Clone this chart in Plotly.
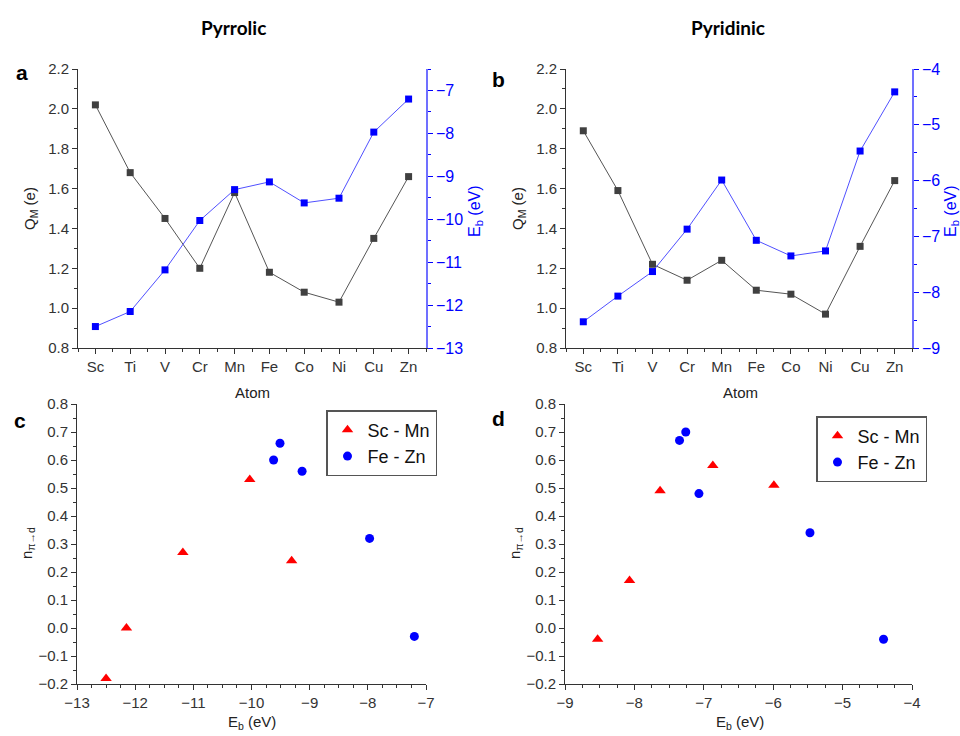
import plotly.graph_objects as go

atoms = ["Sc", "Ti", "V", "Cr", "Mn", "Fe", "Co", "Ni", "Cu", "Zn"]

# Pyrrolic
q_pyrrolic = [2.02, 1.68, 1.45, 1.20, 1.58, 1.18, 1.08, 1.03, 1.35, 1.66]
eb_pyrrolic = [-12.50, -12.15, -11.18, -10.03, -9.31, -9.13, -9.62, -9.51, -7.97, -7.20]
n_pyrrolic = [-0.18, 0.00, 0.27, 0.53, 0.24, 0.56, 0.60, 0.66, 0.32, -0.03]

# Pyridinic
q_pyridinic = [1.89, 1.59, 1.22, 1.14, 1.24, 1.09, 1.07, 0.97, 1.31, 1.64]
eb_pyridinic = [-8.53, -8.07, -7.63, -6.87, -5.99, -7.07, -7.35, -7.26, -5.47, -4.41]
n_pyridinic = [-0.04, 0.17, 0.49, 0.58, 0.51, 0.48, 0.67, 0.70, 0.34, -0.04]

group_names = ["Sc - Mn", "Fe - Zn"]
split = 5

FONT = "Liberation Sans, Arial, sans-serif"
TICKC = "#333333"
BLUE = "#0000ff"

xpos = list(range(len(atoms)))

fig = go.Figure()

W, H = 960, 736
def px(x):
    return x / W
def py(y):
    return 1 - y / H

dom_a = [px(78), px(426)]
dom_b = [px(566), px(912)]
dom_top = [py(348), py(69)]
dom_c = [px(77), px(426)]
dom_d = [px(565), px(912)]
dom_bot = [py(684), py(404)]

# --- top panels ---
for q, eb, xa, ya, ya2 in [
        (q_pyrrolic, eb_pyrrolic, "x", "y", "y2"),
        (q_pyridinic, eb_pyridinic, "x2", "y3", "y4")]:
    fig.add_trace(go.Scatter(x=xpos, y=q, xaxis=xa, yaxis=ya, mode="lines+markers",
                             line=dict(color="#555555", width=1),
                             marker=dict(symbol="square", size=7, color="#404040"),
                             showlegend=False, cliponaxis=False))
    fig.add_trace(go.Scatter(x=xpos, y=eb, xaxis=xa, yaxis=ya2, mode="lines+markers",
                             line=dict(color="#5050ff", width=1),
                             marker=dict(symbol="square", size=7, color=BLUE),
                             showlegend=False, cliponaxis=False))

# --- bottom panels ---
for eb, n, xa, ya, lg in [
        (eb_pyrrolic, n_pyrrolic, "x3", "y5", "legend"),
        (eb_pyridinic, n_pyridinic, "x4", "y6", "legend2")]:
    fig.add_trace(go.Scatter(x=eb[:split], y=n[:split], xaxis=xa, yaxis=ya, mode="markers",
                             name=group_names[0], legend=lg,
                             marker=dict(symbol="triangle-up", size=10, color="#ff0000"),
                             cliponaxis=False))
    fig.add_trace(go.Scatter(x=eb[split:], y=n[split:], xaxis=xa, yaxis=ya, mode="markers",
                             name=group_names[1], legend=lg,
                             marker=dict(symbol="circle", size=9, color=BLUE),
                             cliponaxis=False))

tickfont = dict(family=FONT, size=15, color=TICKC)
bluefont = dict(family=FONT, size=16, color=BLUE)

def xcat(domain, anchor):
    return dict(domain=domain, anchor=anchor, range=[-0.5, 9.5], tickmode="array",
                tickvals=xpos, ticktext=atoms, ticks="outside", ticklen=5,
                tickcolor="#333333", showline=True, linecolor="#333333", linewidth=1,
                showgrid=False, zeroline=False, tickfont=tickfont, automargin=False,
                minor=dict(ticks="outside", ticklen=3, tick0=0.5, dtick=1, tickcolor="#333333"))

def yleft(domain, anchor, rng, dt, mdt):
    return dict(domain=domain, anchor=anchor, range=rng, dtick=dt, tickformat=".1f",
                ticks="outside", ticklen=5, tickcolor="#333333", showline=True,
                linecolor="#333333", linewidth=1, showgrid=False, zeroline=False,
                tickfont=tickfont, automargin=False,
                minor=dict(ticks="outside", ticklen=3, dtick=mdt, tickcolor="#333333"))

def yright(overlay, anchor, rng):
    return dict(overlaying=overlay, anchor=anchor, side="right", range=rng, dtick=1,
                ticks="outside", ticklen=5, tickcolor=BLUE, showline=True,
                linecolor="#7070ff", linewidth=1.5, showgrid=False, zeroline=False,
                tickfont=bluefont, automargin=False,
                minor=dict(ticks="outside", ticklen=3, dtick=0.5, tickcolor=BLUE))

def xnum(domain, anchor, rng):
    return dict(domain=domain, anchor=anchor, range=rng, dtick=1, ticks="outside",
                ticklen=5, tickcolor="#333333", showline=True, linecolor="#333333",
                linewidth=1, showgrid=False, zeroline=False, tickfont=tickfont,
                automargin=False,
                minor=dict(ticks="outside", ticklen=3, dtick=0.25, tickcolor="#333333"))

fig.update_layout(
    width=W, height=H, margin=dict(l=0, r=0, t=0, b=0, autoexpand=False),
    plot_bgcolor="white", paper_bgcolor="white",
    font=dict(family=FONT, size=14, color="#222222"),
    xaxis=xcat(dom_a, "y"),
    yaxis=yleft(dom_top, "x", [0.8, 2.2], 0.2, 0.1),
    yaxis2=yright("y", "x", [-13, -6.5]),
    xaxis2=xcat(dom_b, "y3"),
    yaxis3=yleft(dom_top, "x2", [0.8, 2.2], 0.2, 0.1),
    yaxis4=yright("y3", "x2", [-9, -4]),
    xaxis3=xnum(dom_c, "y5", [-13, -7]),
    yaxis5=yleft(dom_bot, "x3", [-0.2, 0.8], 0.1, 0.05),
    xaxis4=xnum(dom_d, "y6", [-9, -4]),
    yaxis6=yleft(dom_bot, "x4", [-0.2, 0.8], 0.1, 0.05),
    legend=dict(x=px(326), y=py(410), xanchor="left", yanchor="top",
                bordercolor="#555555", borderwidth=1.5, bgcolor="white",
                font=dict(family=FONT, size=18, color="#111111"), tracegroupgap=0),
    legend2=dict(x=px(816), y=py(416), xanchor="left", yanchor="top",
                 bordercolor="#555555", borderwidth=1.5, bgcolor="white",
                 font=dict(family=FONT, size=18, color="#111111"), tracegroupgap=0),
)

ann = []
def add(text, x, y, size=14, color="#222222", angle=0, bold=False, family=FONT):
    ann.append(dict(text=f"<b>{text}</b>" if bold else text, x=px(x), y=py(y),
                    xref="paper", yref="paper", showarrow=False, textangle=angle,
                    xanchor="center", yanchor="middle",
                    font=dict(family=family, size=size, color=color)))

TITLEF = "Lato, Open Sans, sans-serif"
add("Pyrrolic", 233, 27, size=19, color="#000000", bold=True, family=TITLEF)
add("Pyridinic", 728, 27, size=19, color="#000000", bold=True, family=TITLEF)
add("a", 22, 72, size=21, color="#000000", bold=True)
add("b", 498, 79, size=21, color="#000000", bold=True)
add("c", 20, 420, size=21, color="#000000", bold=True)
add("d", 498, 418, size=21, color="#000000", bold=True)

# axis titles
add("Atom", 252, 392, size=15)
add("Atom", 740, 392, size=15)
add("Q<sub>M</sub> (e)", 30, 209, size=15, angle=-90)
add("Q<sub>M</sub> (e)", 518, 209, size=15, angle=-90)
add("E<sub>b</sub> (eV)", 475, 211, size=16, color=BLUE, angle=-90)
add("E<sub>b</sub> (eV)", 951, 211, size=16, color=BLUE, angle=-90)
add("n<sub>π→d</sub>", 27, 543, size=15, angle=-90)
add("n<sub>π→d</sub>", 515, 543, size=15, angle=-90)
add("E<sub>b</sub> (eV)", 252, 722, size=15)
add("E<sub>b</sub> (eV)", 740, 722, size=15)

fig.update_layout(annotations=ann)

fig.write_html("out.html", config={"displayModeBar": False},
               post_script="document.body.style.margin='0';document.body.style.overflow='hidden';")
